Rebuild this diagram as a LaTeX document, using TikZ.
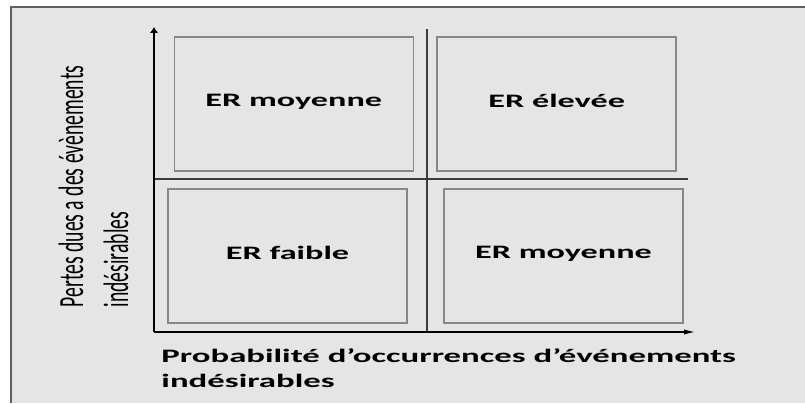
\documentclass[tikz,border=0pt]{standalone}
\usepackage{fontspec}
\setmainfont{Carlito}
\usetikzlibrary{arrows.meta}
\definecolor{panelgray}{RGB}{229,229,229}
\definecolor{framegray}{RGB}{95,95,95}
\definecolor{cellgray}{RGB}{135,135,135}
\definecolor{dividergray}{RGB}{60,60,60}
\tikzset{
  cell/.style = {draw=cellgray, line width=1.1pt, minimum width=179.25pt, minimum height=100.5pt, inner sep=0pt},
  celltext/.style = {font=\bfseries\fontsize{14.25}{18.75}\selectfont, xscale=1.8, inner sep=0pt, yshift=2pt},
  axis/.style = {line width=1.35pt, black},
  divider/.style = {line width=1.2pt, dividergray},
  xlabel/.style = {font=\bfseries\fontsize{14.25}{18.75}\selectfont, align=left, inner sep=0pt, xscale=1.83},
  ylabel/.style = {font=\fontsize{14.75}{18.75}\selectfont, align=left, inner sep=0pt, xscale=1.8, rotate=90}
}

\begin{document}
\begin{tikzpicture}[x=0.75pt,y=-0.75pt]
	\useasboundingbox (0,0) rectangle (805,403);
	\fill[panelgray] (11,7) rectangle (805,403);
	\draw[framegray, line width=1.3pt] (11,403) -- (11,7) -- (805,7);
	% axes and quadrant lines
	\coordinate (origin) at (154,332);
	\coordinate (ytip) at (154,27);
	\coordinate (xtip) at (696,332);
	\coordinate (vtop) at (427,29);
	\coordinate (vbot) at (427,332);
	\coordinate (hleft) at (154,179);
	\coordinate (hright) at (688,179);
	\draw[divider] (vtop) -- (vbot);
	\draw[divider] (hleft) -- (hright);
	\draw[axis, -{Latex[length=4.5pt,width=6.5pt]}] (origin) -- (ytip);
	\draw[axis, -{Latex[length=9pt,width=4pt]}] (origin) -- (xtip);
	% quadrants
	\node [cell, label={[celltext]center:ER moyenne}] (topleft) at (293.75,104) {};
	\node [cell, label={[celltext]center:ER élevée}] (topright) at (556.7,104) {};
	\node [cell, label={[celltext]center:ER faible}] (bottomleft) at (287.5,256) {};
	\node [cell, label={[celltext]center:ER moyenne}] (bottomright) at (563.5,256) {};
	% axis names
	\node [ylabel] (lossname) at (93.5,186.5) {Pertes dues a des évènements\\indésirables};
	\node [xlabel, anchor=west] (probname) at (161,368.1) {Probabilité d’occurrences d’événements\\indésirables};
\end{tikzpicture}
\end{document}
